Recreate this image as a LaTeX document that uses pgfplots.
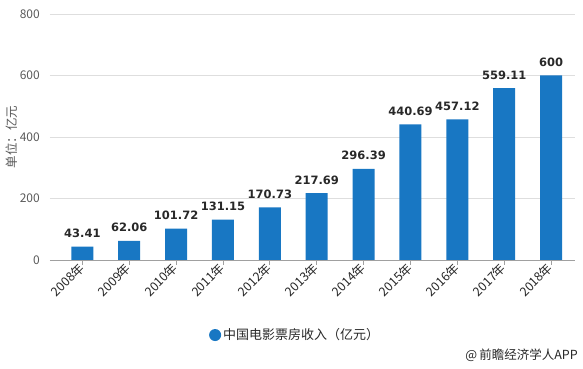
\documentclass[border=0pt]{standalone}
\usepackage{fontspec}
\setmainfont{Noto Sans CJK SC}
\newfontfamily\valfont{DejaVu Sans}
\usepackage{pgfplots}
\usepackage{pgfplotstable}
\pgfplotsset{compat=1.18}
\definecolor{barblue}{RGB}{24,119,195}
\definecolor{txtgray}{RGB}{90,90,90}
\definecolor{txtdark}{RGB}{40,40,40}
\definecolor{gridgray}{RGB}{222,222,222}
\definecolor{axgray}{RGB}{160,160,160}
\pgfplotstableread{
x y label
0 43.41 43.41
1 62.06 62.06
2 101.72 101.72
3 131.15 131.15
4 170.73 170.73
5 217.69 217.69
6 296.39 296.39
7 440.69 440.69
8 457.12 457.12
9 559.11 559.11
10 600 600
}\boxoffice
\begin{document}
\begin{tikzpicture}[x=1pt,y=1pt]
\useasboundingbox (0,0) rectangle (583,369);
\begin{axis}[
  at={(50pt,109pt)}, anchor=south west,
  scale only axis, width=525pt, height=246pt,
  ybar, bar width=22pt,
  xmin=-0.69, xmax=10.51, ymin=0, ymax=800,
  xtick={0,...,10},
  xticklabels={2008年,2009年,2010年,2011年,2012年,2013年,2014年,2015年,2016年,2017年,2018年},
  ytick={0,200,400,600,800},
  /pgf/number format/assume math mode=true,
  axis x line*=bottom, axis y line*=left,
  y axis line style={draw=none},
  x axis line style={draw=axgray, line width=0.8pt},
  ytick style={draw=none},
  xtick style={draw=axgray, line width=0.8pt},
  tick align=outside, major tick length=5pt,
  ymajorgrids, grid style={draw=gridgray, line width=0.8pt},
  yticklabel style={font=\fontsize{12}{14}\selectfont, text=txtgray, inner sep=0pt, xshift=-5pt},
  xticklabel style={font=\fontsize{12.5}{14}\selectfont, text=txtdark, rotate=45, anchor=east, inner sep=1pt},
  ylabel={单位：亿元},
  ylabel style={font=\fontsize{12.5}{14}\selectfont, text=txtgray, at={(axis description cs:-0.072,0.5)}, anchor=center, rotate=0},
  nodes near coords,
  point meta=explicit symbolic,
  nodes near coords style={font=\valfont\bfseries\fontsize{11.5}{13}\selectfont, text=txtdark, anchor=base, inner sep=0pt, yshift=9pt},
  legend style={at={(axis description cs:0.297,-0.305)}, anchor=west, draw=none, fill=none,
    font=\fontsize{13}{15}\selectfont, text=txtdark},
  legend cell align=left,
]
\addplot[fill=barblue, draw=none,
  legend image code/.code={\fill[barblue] (6pt,0pt) circle (6pt);}]
  table[x=x, y=y, meta=label] {\boxoffice};
\addlegendentry{中国电影票房收入（亿元）}
\end{axis}
\node[anchor=east, font=\fontsize{12.5}{14}\selectfont, text=txtdark, inner sep=0pt] at (578,14) {@\,前瞻经济学人APP};
\end{tikzpicture}
\end{document}
